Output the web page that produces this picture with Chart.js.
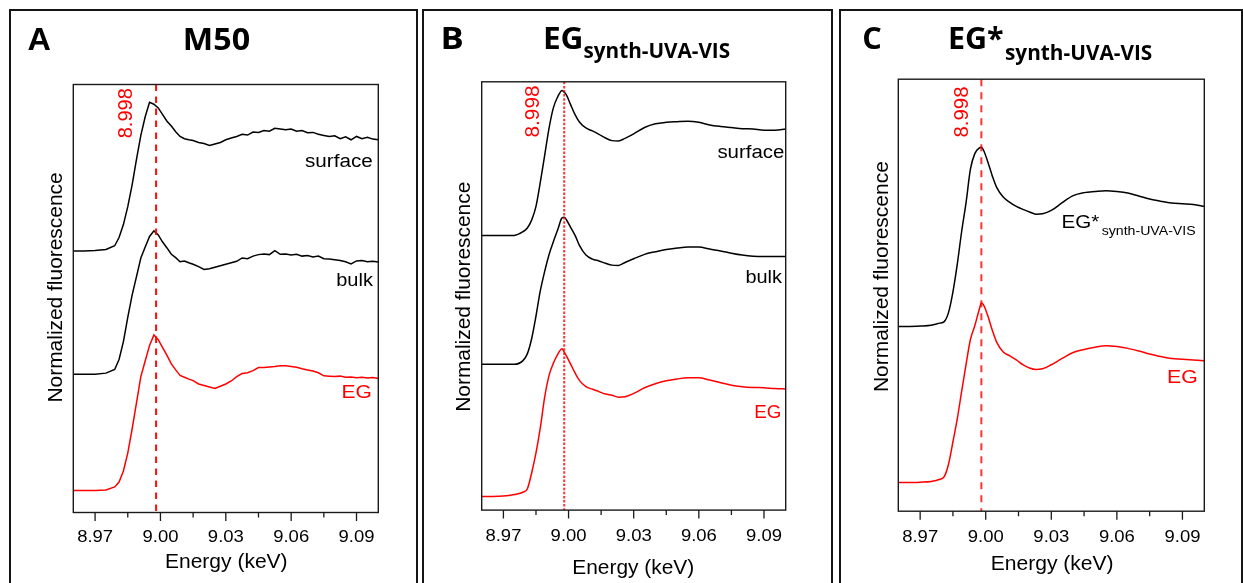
<!DOCTYPE html>
<html>
<head>
<meta charset="utf-8">
<title>Cu K-edge XANES</title>
<script src="https://cdn.jsdelivr.net/npm/chart.js@4.4.1/dist/chart.umd.min.js"></script>
<style>
  html, body { margin: 0; padding: 0; background: #fff; }
  body { width: 1243px; height: 583px; position: relative; overflow: hidden; }
  .frame { position: absolute; border: 2px solid #151515; box-sizing: border-box; }
  canvas { position: absolute; left: 0; top: 0; }
</style>
</head>
<body>
<div class="frame" style="left:9px;top:9px;width:409px;height:600px"></div>
<div class="frame" style="left:422px;top:9px;width:411px;height:600px"></div>
<div class="frame" style="left:839px;top:9px;width:404px;height:600px"></div>
<canvas id="chartA" width="1243" height="583"></canvas>
<canvas id="chartB" width="1243" height="583"></canvas>
<canvas id="chartC" width="1243" height="583"></canvas>
<script>
// ---- Energy grids (keV) ----
const energyA = [8.960, 8.965, 8.970, 8.975, 8.979, 8.981, 8.983, 8.985, 8.987, 8.989, 8.991, 8.993, 8.995, 8.997, 8.999, 9.001, 9.003, 9.005, 9.007, 9.009, 9.011, 9.013, 9.015,
  9.0175, 9.020, 9.0225, 9.025, 9.0275, 9.030, 9.0325, 9.035, 9.0375, 9.040, 9.0425, 9.045, 9.0475, 9.050, 9.0525, 9.055, 9.0575, 9.060, 9.0625, 9.065, 9.0675, 9.070, 9.0725, 9.075, 9.0775, 9.080, 9.0825, 9.085, 9.0875, 9.090, 9.0925, 9.095, 9.0975, 9.100];
const energyBC = [8.960, 8.965, 8.970, 8.975, 8.979, 8.981, 8.983, 8.985, 8.987, 8.989, 8.991, 8.993, 8.995, 8.997, 8.998, 8.999, 9.001, 9.003, 9.005,
  9.008, 9.011, 9.014, 9.017, 9.020, 9.023, 9.026, 9.030, 9.035, 9.040, 9.045, 9.050, 9.055, 9.060, 9.065, 9.070, 9.075, 9.080, 9.085, 9.090, 9.095, 9.100];

// ---- Normalized fluorescence, M50 ----
const m50Surface = [0.000, 0.000, 0.003, 0.013, 0.045, 0.116, 0.229, 0.384, 0.574, 0.794, 1.003, 1.165, 1.290, 1.274, 1.242, 1.184, 1.126, 1.084, 1.035, 0.994, 0.974, 0.965, 0.958,
  0.942, 0.932, 0.916, 0.929, 0.942, 0.965, 0.981, 0.994, 1.013, 1.006, 1.032, 1.029, 1.045, 1.039, 1.065, 1.058, 1.052, 1.058, 1.039, 1.045, 1.026, 1.029, 1.013, 1.003, 0.994, 1.000, 0.974, 0.990, 0.965, 0.994, 0.974, 0.987, 0.971, 0.965];
const m50Bulk = [0.000, 0.000, 0.000, 0.010, 0.042, 0.129, 0.284, 0.494, 0.687, 0.848, 1.010, 1.106, 1.197, 1.245, 1.210, 1.148, 1.097, 1.042, 1.013, 0.977, 0.984, 0.968, 0.955,
  0.935, 0.910, 0.916, 0.929, 0.942, 0.955, 0.968, 0.981, 1.010, 1.003, 1.026, 1.039, 1.045, 1.039, 1.074, 1.042, 1.045, 1.035, 1.042, 1.026, 1.032, 1.019, 1.026, 1.003, 1.000, 0.994, 0.987, 0.977, 0.958, 0.984, 0.987, 0.977, 0.981, 0.974];
const m50EG = [0.000, 0.000, 0.000, 0.006, 0.032, 0.074, 0.171, 0.326, 0.535, 0.761, 0.990, 1.126, 1.261, 1.352, 1.310, 1.242, 1.174, 1.100, 1.048, 1.000, 0.984, 0.968, 0.955,
  0.926, 0.913, 0.900, 0.887, 0.906, 0.926, 0.952, 0.990, 1.016, 1.023, 1.042, 1.068, 1.068, 1.074, 1.077, 1.084, 1.084, 1.077, 1.071, 1.058, 1.048, 1.039, 1.023, 0.997, 0.994, 0.990, 0.994, 0.984, 0.987, 0.981, 0.984, 0.977, 0.981, 0.974];

// ---- Normalized fluorescence, EG synth-UVA-VIS ----
const synthSurface = [0, 0, 0, 0, 0.034, 0.068, 0.140, 0.266, 0.488, 0.734, 0.983, 1.171, 1.273, 1.331, 1.315, 1.290, 1.198, 1.109, 1.041,
  0.986, 0.959, 0.928, 0.894, 0.870, 0.867, 0.891, 0.932, 0.990, 1.024, 1.038, 1.044, 1.048, 1.038, 1.014, 1.000, 0.990, 0.980, 0.976, 0.966, 0.966, 0.976];
const synthBulk = [0, 0, 0, 0, 0.034, 0.096, 0.235, 0.444, 0.676, 0.853, 1.007, 1.126, 1.235, 1.345, 1.350, 1.328, 1.256, 1.184, 1.092,
  1.003, 0.966, 0.949, 0.928, 0.911, 0.908, 0.935, 0.969, 1.010, 1.034, 1.055, 1.068, 1.078, 1.078, 1.058, 1.041, 1.020, 1.003, 0.993, 0.990, 0.990, 0.990];
const synthEG = [0, 0, 0.003, 0.017, 0.038, 0.068, 0.215, 0.399, 0.631, 0.911, 1.109, 1.222, 1.304, 1.355, 1.324, 1.290, 1.212, 1.133, 1.065,
  1.007, 0.983, 0.962, 0.939, 0.928, 0.911, 0.915, 0.945, 0.997, 1.034, 1.061, 1.078, 1.089, 1.089, 1.068, 1.044, 1.020, 1.007, 1.000, 0.997, 0.990, 0.986];

// ---- Normalized fluorescence, EG* synth-UVA-VIS ----
const starSample = [0, 0, 0.003, 0.009, 0.027, 0.039, 0.114, 0.279, 0.505, 0.769, 1.000, 1.270, 1.396, 1.441, 1.447, 1.423, 1.327, 1.216, 1.123,
  1.045, 1.003, 0.970, 0.946, 0.925, 0.907, 0.910, 0.937, 1.000, 1.057, 1.081, 1.090, 1.096, 1.090, 1.078, 1.054, 1.030, 1.012, 0.997, 0.991, 0.985, 0.970];
const starEG = [0, 0, 0.003, 0.009, 0.027, 0.048, 0.150, 0.330, 0.517, 0.739, 0.955, 1.156, 1.267, 1.396, 1.450, 1.435, 1.345, 1.231, 1.135,
  1.054, 1.024, 0.991, 0.952, 0.925, 0.913, 0.919, 0.952, 1.003, 1.051, 1.075, 1.093, 1.105, 1.099, 1.084, 1.063, 1.039, 1.018, 1.003, 0.997, 0.991, 0.985];

// ---- Vertical stacking offsets ----
const offsetsA = [2.271, 1.200, 0.190];
const offsetsB = [2.522, 1.338, 0.126];
const offsetsC = [1.492, 0.231];

// ---- Axis ticks and the edge marker ----
const majorTicks = [8.97, 9.00, 9.03, 9.06, 9.09];
const tickLabels = ['8.97', '9.00', '9.03', '9.06', '9.09'];
const minorTicks = [8.985, 9.015, 9.045, 9.075];
const edgeEnergy = 8.998;
const edgeLabel = '8.998';

const W = 1243, H = 583;
const BLACK = '#000000', RED = '#ff0000';
const SANS = '"Liberation Sans", Arial, sans-serif';
const BOLD = '"Open Sans", "Liberation Sans", sans-serif';

// Draw a text run stretched so that its ink spans x0..x1, on the given baseline.
function inkText(ctx, str, font, color, x0, x1, baseline) {
  ctx.save();
  ctx.font = font; ctx.fillStyle = color;
  ctx.textAlign = 'left'; ctx.textBaseline = 'alphabetic';
  const m = ctx.measureText(str);
  const inkW = m.actualBoundingBoxLeft + m.actualBoundingBoxRight;
  const k = (x1 - x0) / inkW;
  ctx.translate(x0 + m.actualBoundingBoxLeft * k, baseline);
  ctx.scale(k, 1);
  ctx.fillText(str, 0, 0);
  ctx.restore();
}
// Same, rotated to read bottom-to-top, ink spanning yBottom..yTop, baseline at x.
function inkTextUp(ctx, str, font, color, yBottom, yTop, baselineX) {
  ctx.save();
  ctx.font = font; ctx.fillStyle = color;
  ctx.textAlign = 'left'; ctx.textBaseline = 'alphabetic';
  const m = ctx.measureText(str);
  const inkW = m.actualBoundingBoxLeft + m.actualBoundingBoxRight;
  const k = (yBottom - yTop) / inkW;
  ctx.translate(baselineX, yBottom - m.actualBoundingBoxLeft * k);
  ctx.rotate(-Math.PI / 2);
  ctx.scale(k, 1);
  ctx.fillText(str, 0, 0);
  ctx.restore();
}
// Centered text with a fixed horizontal stretch.
function centerText(ctx, str, font, color, cx, baseline, k) {
  ctx.save();
  ctx.font = font; ctx.fillStyle = color;
  ctx.textAlign = 'left'; ctx.textBaseline = 'alphabetic';
  const m = ctx.measureText(str);
  const inkW = (m.actualBoundingBoxLeft + m.actualBoundingBoxRight) * k;
  ctx.translate(cx - inkW / 2 + m.actualBoundingBoxLeft * k, baseline);
  ctx.scale(k, 1);
  ctx.fillText(str, 0, 0);
  ctx.restore();
}

// Frame, ticks, reference line and all panel text.
function panelDecor(spec) {
  return {
    id: 'panelDecor',
    afterDatasetsDraw(chart) {
      const ctx = chart.ctx;
      const area = chart.chartArea;
      const xs = chart.scales.x;

      // dashed edge marker
      const ex = xs.getPixelForValue(edgeEnergy);
      ctx.save();
      ctx.strokeStyle = spec.markerColor;
      ctx.lineWidth = 2;
      ctx.setLineDash(spec.dash);
      ctx.beginPath();
      ctx.moveTo(ex, area.top);
      ctx.lineTo(ex, area.bottom);
      ctx.stroke();
      ctx.restore();

      // plot box
      ctx.save();
      ctx.strokeStyle = '#1a1a1a';
      ctx.lineWidth = 1.4;
      ctx.strokeRect(area.left, area.top, area.right - area.left, area.bottom - area.top);

      // outward ticks on the energy axis
      ctx.beginPath();
      majorTicks.forEach(v => {
        const p = xs.getPixelForValue(v);
        ctx.moveTo(p, area.bottom); ctx.lineTo(p, area.bottom + 8.5);
      });
      minorTicks.forEach(v => {
        const p = xs.getPixelForValue(v);
        ctx.moveTo(p, area.bottom); ctx.lineTo(p, area.bottom + 5);
      });
      ctx.lineWidth = 1.3;
      ctx.stroke();
      ctx.restore();

      majorTicks.forEach((v, i) => {
        centerText(ctx, tickLabels[i], '16.3px ' + SANS, '#000', xs.getPixelForValue(v), spec.tickBase, 1.135);
      });

      // axis titles
      const xt = spec.xTitle;
      inkText(ctx, 'Energy (keV)', '20.7px ' + SANS, '#000', xt[0], xt[1], xt[2]);
      const yt = spec.yTitle;
      inkTextUp(ctx, 'Normalized fluorescence', '20.7px ' + SANS, '#000', yt[0], yt[1], yt[2]);

      // marker value
      const ml = spec.markerLabel;
      inkTextUp(ctx, edgeLabel, '20px ' + SANS, RED, ml[0], ml[1], ml[2]);

      // panel letter and heading
      spec.heading.forEach(h => inkText(ctx, h.text, h.font, '#000', h.x0, h.x1, h.base));
      // curve labels
      spec.labels.forEach(l => inkText(ctx, l.text, l.font, l.color, l.x0, l.x1, l.base));
    }
  };
}

function series(energy, values, offset, color, smooth) {
  return {
    data: energy.map((e, i) => ({ x: e, y: offset + values[i] })),
    borderColor: color,
    borderWidth: 1.5,
    pointRadius: 0,
    fill: false,
    cubicInterpolationMode: smooth ? 'monotone' : 'default',
    tension: 0
  };
}

function makeChart(id, box, yMax, datasets, spec) {
  return new Chart(document.getElementById(id), {
    type: 'line',
    data: { datasets },
    options: {
      responsive: false,
      animation: false,
      devicePixelRatio: 1,
      events: [],
      layout: { padding: { left: box.l, top: box.t, right: W - box.r, bottom: H - box.b } },
      plugins: { legend: { display: false }, tooltip: { enabled: false }, title: { display: false } },
      scales: {
        x: { type: 'linear', min: 8.96, max: 9.10, display: false },
        y: { type: 'linear', min: 0, max: yMax, display: false }
      }
    },
    plugins: [panelDecor(spec)]
  });
}

const labelFont = '18px ' + SANS;

// Panel A: M50
makeChart('chartA', { l: 73.3, t: 84.5, r: 378.3, b: 512.5 }, 3.716, [
  series(energyA, m50Surface, offsetsA[0], BLACK, false),
  series(energyA, m50Bulk, offsetsA[1], BLACK, false),
  series(energyA, m50EG, offsetsA[2], RED, false)
], {
  markerColor: 'rgba(255,0,0,0.95)', dash: [6.5, 5.5],
  tickBase: 541.7,
  xTitle: [166, 286.7, 568.3],
  yTitle: [401.5, 172.9, 62],
  markerLabel: [138.3, 88.3, 131.7],
  heading: [
    { text: 'A', font: 'bold 31px ' + SANS, x0: 27.5, x1: 50.5, base: 50 },
    { text: 'M50', font: 'bold 30px ' + BOLD, x0: 185, x1: 250, base: 50 }
  ],
  labels: [
    { text: 'surface', font: labelFont, color: BLACK, x0: 305, x1: 372.7, base: 167.3 },
    { text: 'bulk', font: labelFont, color: BLACK, x0: 337.3, x1: 374, base: 286.3 },
    { text: 'EG', font: labelFont, color: RED, x0: 342.7, x1: 370.7, base: 398.3 }
  ]
});

// Panel B: EG synth-UVA-VIS
makeChart('chartB', { l: 481.7, t: 81.8, r: 785.7, b: 510.1 }, 3.932, [
  series(energyBC, synthSurface, offsetsB[0], BLACK, true),
  series(energyBC, synthBulk, offsetsB[1], BLACK, true),
  series(energyBC, synthEG, offsetsB[2], RED, true)
], {
  markerColor: 'rgba(255,0,0,0.8)', dash: [2.5, 1.6],
  tickBase: 541.3,
  xTitle: [573.3, 693.3, 573.8],
  yTitle: [410.8, 182.2, 470],
  markerLabel: [137.6, 85.5, 538.8],
  heading: [
    { text: 'B', font: 'bold 30px ' + BOLD, x0: 442.7, x1: 462.3, base: 49 },
    { text: 'EG', font: 'bold 30px ' + BOLD, x0: 545, x1: 581.7, base: 49 },
    { text: 'synth-UVA-VIS', font: 'bold 22px ' + BOLD, x0: 583.5, x1: 730, base: 58.3 }
  ],
  labels: [
    { text: 'surface', font: labelFont, color: BLACK, x0: 717.4, x1: 784.4, base: 158 },
    { text: 'bulk', font: labelFont, color: BLACK, x0: 746.5, x1: 783.1, base: 282.6 },
    { text: 'EG', font: labelFont, color: RED, x0: 755.3, x1: 780.3, base: 418.3 }
  ]
});

// Panel C: EG* synth-UVA-VIS
makeChart('chartC', { l: 898.3, t: 79.2, r: 1204.3, b: 511.2 }, 3.489, [
  series(energyBC, starSample, offsetsC[0], BLACK, true),
  series(energyBC, starEG, offsetsC[1], RED, true)
], {
  markerColor: 'rgba(255,0,0,0.8)', dash: [7, 6],
  tickBase: 542,
  xTitle: [991.7, 1112.7, 570],
  yTitle: [391.1, 161.7, 888.3],
  markerLabel: [137.6, 86.6, 968.3],
  heading: [
    { text: 'C', font: 'bold 30px ' + BOLD, x0: 863.3, x1: 881.7, base: 49 },
    { text: 'EG*', font: 'bold 30px ' + BOLD, x0: 950, x1: 1003.3, base: 49 },
    { text: 'synth-UVA-VIS', font: 'bold 21px ' + BOLD, x0: 1005, x1: 1151.7, base: 60 }
  ],
  labels: [
    { text: 'EG*', font: labelFont, color: BLACK, x0: 1062.7, x1: 1099.3, base: 227.7 },
    { text: 'synth-UVA-VIS', font: '13px ' + SANS, color: BLACK, x0: 1101.7, x1: 1196, base: 235 },
    { text: 'EG', font: labelFont, color: RED, x0: 1168.3, x1: 1196.7, base: 383 }
  ]
});
</script>
</body>
</html>
